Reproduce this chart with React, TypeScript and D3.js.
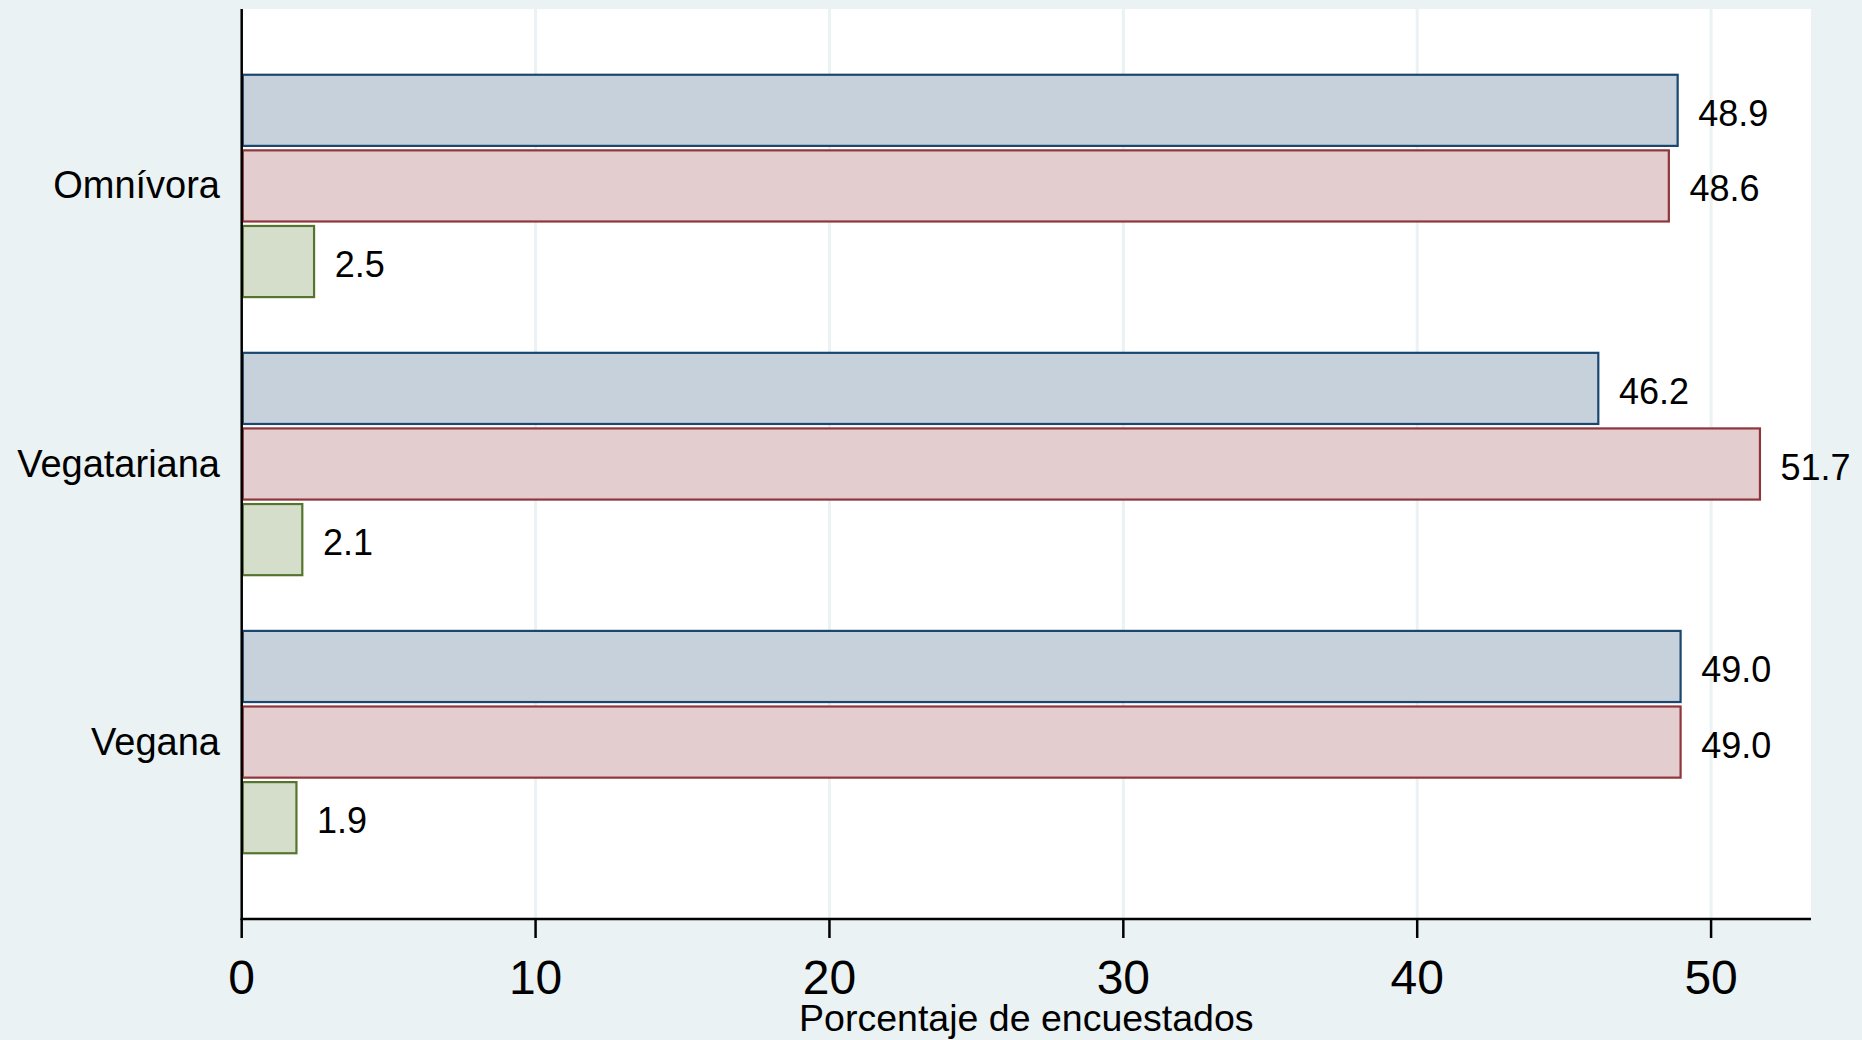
import React from "react";
import * as d3 from "d3";

const categories = ["Omnívora", "Vegatariana", "Vegana"];
const seriesNames = ["s1", "s2", "s3"];
const series1 = [48.9, 46.2, 49.0];
const series2 = [48.6, 51.7, 49.0];
const series3 = [2.5, 2.1, 1.9];
const xTicks = [0, 10, 20, 30, 40, 50];
const xTitle = "Porcentaje de encuestados";

const fills = ["#c6d1db", "#e3cdce", "#d5ddcb"];
const strokes = ["#1a476f", "#90353b", "#55752f"];

const W = 1862;
const H = 1040;
const plotL = 241.7;
const plotR = 1811;
const plotT = 9;
const plotB = 919;
const BG = "#eaf2f3";
const FONT = "'Liberation Sans', Arial, Helvetica, sans-serif";

export default function App() {
  const x = d3.scaleLinear().domain([0, 53.4]).range([plotL, plotR]);
  const y = d3
    .scaleBand<string>()
    .domain(categories)
    .range([plotT, plotB])
    .paddingInner(0.1925)
    .paddingOuter(0.2325);
  const ySub = d3
    .scaleBand<string>()
    .domain(seriesNames)
    .range([0, y.bandwidth()])
    .paddingInner(0.03)
    .paddingOuter(0);
  const allSeries = [series1, series2, series3];
  const fmt = d3.format(".1f");
  const sw = 2.2;

  return (
    <svg
      width={W}
      height={H}
      style={{ position: "fixed", left: 0, top: 0, display: "block" }}
      fontFamily={FONT}
    >
      <rect x={0} y={0} width={W} height={H} fill={BG} />
      <rect x={plotL} y={plotT} width={plotR - plotL} height={plotB - plotT} fill="#ffffff" />
      {xTicks.map((t) => (
        <line key={"g" + t} x1={x(t)} x2={x(t)} y1={plotT} y2={plotB} stroke={BG} strokeWidth={3} />
      ))}
      {categories.map((c, ci) => (
        <g key={c}>
          {allSeries.map((s, si) => {
            const y0 = (y(c) as number) + (ySub(seriesNames[si]) as number);
            const h = ySub.bandwidth();
            const xe = x(s[ci]);
            return (
              <g key={si}>
                <rect
                  x={x(0) + sw / 2}
                  y={y0 + sw / 2}
                  width={xe - x(0) - sw}
                  height={h - sw}
                  fill={fills[si]}
                  stroke={strokes[si]}
                  strokeWidth={sw}
                />
                <text x={xe + 19.5} y={y0 + h / 2 + 15.5} fontSize={36} fill="#000">
                  {fmt(s[ci])}
                </text>
              </g>
            );
          })}
          <text
            x={220}
            y={(y(c) as number) + y.bandwidth() / 2 + 12.5}
            fontSize={38}
            textAnchor="end"
            fill="#000"
          >
            {c}
          </text>
        </g>
      ))}
      <line x1={plotL} x2={plotL} y1={plotT} y2={plotB + 1} stroke="#000" strokeWidth={2.5} />
      <line x1={plotL - 1} x2={plotR} y1={plotB} y2={plotB} stroke="#000" strokeWidth={2.5} />
      {xTicks.map((t) => (
        <g key={"t" + t}>
          <line x1={x(t)} x2={x(t)} y1={plotB} y2={plotB + 19} stroke="#000" strokeWidth={2.5} />
          <text x={x(t)} y={994} fontSize={48} textAnchor="middle" fill="#000">
            {t}
          </text>
        </g>
      ))}
      <text x={(plotL + plotR) / 2} y={1031} fontSize={37.5} textAnchor="middle" fill="#000">
        {xTitle}
      </text>
    </svg>
  );
}
